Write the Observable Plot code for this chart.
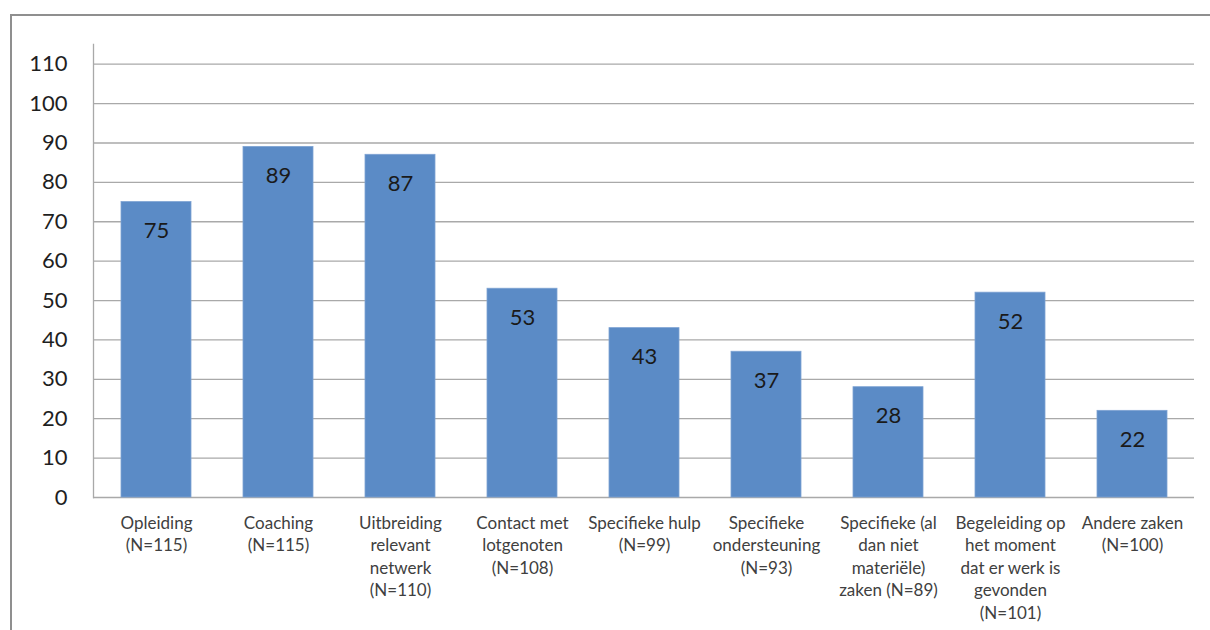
<!DOCTYPE html>
<html>
<head>
<meta charset="utf-8">
<script src="https://cdn.jsdelivr.net/npm/d3@7"></script>
<script src="https://cdn.jsdelivr.net/npm/@observablehq/plot@0.6"></script>
<style>
  html, body { margin: 0; padding: 0; background: #fff; overflow: hidden; }
  #wrap { position: relative; width: 1210px; height: 630px; overflow: hidden; }
  #frame { position: absolute; left: 10px; top: 14px; width: 1300px; height: 700px; border: 2px solid #8f8f8f; box-sizing: border-box; }
  #chart { position: absolute; left: 0; top: 0; }
</style>
</head>
<body>
<div id="wrap">
  <div id="frame"></div>
  <div id="chart"></div>
</div>
<script>
const categories = [
  "Opleiding\n(N=115)",
  "Coaching\n(N=115)",
  "Uitbreiding\nrelevant\nnetwerk\n(N=110)",
  "Contact met\nlotgenoten\n(N=108)",
  "Specifieke hulp\n(N=99)",
  "Specifieke\nondersteuning\n(N=93)",
  "Specifieke (al\ndan niet\nmateriële)\nzaken (N=89)",
  "Begeleiding op\nhet moment\ndat er werk is\ngevonden\n(N=101)",
  "Andere zaken\n(N=100)"
];
const values = [75, 89, 87, 53, 43, 37, 28, 52, 22];
const yTicks = [0, 10, 20, 30, 40, 50, 60, 70, 80, 90, 100, 110];

const data = categories.map((c, i) => ({category: c, value: values[i]}));

const chart = Plot.plot({
  width: 1210,
  height: 630,
  marginLeft: 93,
  marginRight: 16,
  marginTop: 44,
  marginBottom: 133,
  style: {fontFamily: "Lato, sans-serif", background: "transparent"},
  x: {domain: categories, paddingInner: 0.43, paddingOuter: 0.215, axis: null, label: null},
  y: {domain: [0, 115], axis: null, label: null},
  marks: [
    Plot.ruleY(yTicks, {stroke: "#a9a9a9", strokeWidth: 1.3}),
    Plot.frame({anchor: "left", stroke: "#a9a9a9", strokeWidth: 1.3}),
    Plot.barY(data, {x: "category", y: "value", fill: "#5b8bc6", stroke: "#7ea3d3", strokeWidth: 0.8}),
    Plot.text(data, {x: "category", y: "value", text: d => String(d.value), dy: 29, fontSize: 22, fill: "#1a1a1a"}),
    Plot.axisY({ticks: yTicks, tickSize: 0, tickPadding: 26, fontSize: 22, color: "#1f1f1f", anchor: "left", label: null}),
    Plot.axisX({tickSize: 0, tickPadding: 15, fontSize: 17, lineHeight: 1.33, color: "#404040", textAnchor: "middle", lineAnchor: "top", label: null})
  ]
});

document.getElementById("chart").append(chart);
</script>
</body>
</html>
